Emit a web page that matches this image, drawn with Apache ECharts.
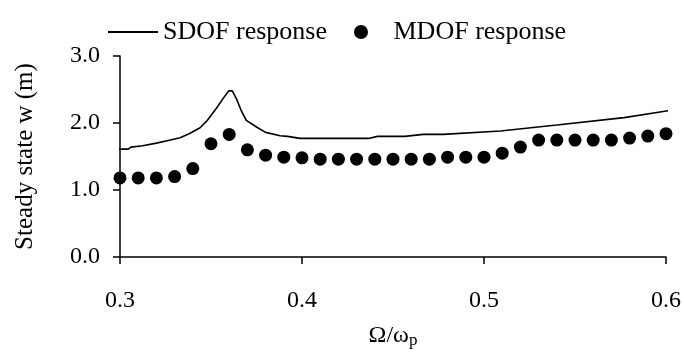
<!DOCTYPE html>
<html>
<head>
<meta charset="utf-8">
<script src="https://cdn.jsdelivr.net/npm/echarts@6/dist/echarts.min.js"></script>
<style>
  html, body { margin: 0; padding: 0; background: #fff; }
  #chart { width: 684px; height: 354px; }
</style>
</head>
<body>
<div id="chart"></div>
<script>
// Frequency ratio for the MDOF samples
const mdofX = [0.30, 0.31, 0.32, 0.33, 0.34, 0.35, 0.36, 0.37, 0.38, 0.39, 0.40,
               0.41, 0.42, 0.43, 0.44, 0.45, 0.46, 0.47, 0.48, 0.49, 0.50,
               0.51, 0.52, 0.53, 0.54, 0.55, 0.56, 0.57, 0.58, 0.59, 0.60];
// MDOF steady-state amplitude (m)
const mdofY = [1.18, 1.18, 1.18, 1.20, 1.32, 1.69, 1.83, 1.60, 1.52, 1.49, 1.48,
               1.46, 1.46, 1.46, 1.46, 1.46, 1.46, 1.46, 1.49, 1.49, 1.49,
               1.55, 1.64, 1.745, 1.745, 1.745, 1.745, 1.745, 1.775, 1.805, 1.84];
// SDOF response curve
const sdofX = [0.2965, 0.3045, 0.306, 0.3125, 0.320, 0.3265, 0.333, 0.338, 0.344, 0.348,
               0.353, 0.3565, 0.3598, 0.3617, 0.364, 0.3667, 0.3694, 0.375, 0.380, 0.388,
               0.392, 0.399, 0.4365, 0.4415, 0.4565, 0.4665, 0.4775, 0.509, 0.540, 0.577, 0.605];
const sdofY = [1.61, 1.61, 1.64, 1.66, 1.70, 1.74, 1.78, 1.84, 1.93, 2.04,
               2.22, 2.36, 2.48, 2.48, 2.36, 2.18, 2.04, 1.94, 1.86, 1.81,
               1.80, 1.77, 1.77, 1.80, 1.80, 1.83, 1.83, 1.88, 1.97, 2.08, 2.20];
// Axis ticks
const xTicks = { min: 0.3, max: 0.6, step: 0.1 };
const yTicks = { min: 0, max: 3, step: 1 };

const FONT = "'Liberation Serif', 'Times New Roman', serif";
const FS = 24;

const chart = echarts.init(document.getElementById('chart'), null, { renderer: 'canvas' });

const axisCommon = {
  axisLine: { show: true, onZero: false, lineStyle: { color: '#000', width: 1.5 } },
  axisTick: { show: true, inside: false, length: 7, lineStyle: { color: '#000', width: 1.5 } },
  splitLine: { show: false },
};

chart.setOption({
  animation: false,
  backgroundColor: '#fff',
  grid: { left: 120, right: 18, top: 56, bottom: 89, containLabel: false },
  legend: [
    {
      data: [{ name: 'SDOF response', icon: 'rect' }],
      left: 103, top: 14,
      itemWidth: 50, itemHeight: 2,
      textStyle: { fontFamily: FONT, fontSize: 26, color: '#000' }
    },
    {
      data: [{ name: 'MDOF response', icon: 'circle' }],
      left: 349, top: 14,
      itemWidth: 55, itemHeight: 14,
      textStyle: { fontFamily: FONT, fontSize: 26, color: '#000' }
    }
  ],
  xAxis: Object.assign({}, axisCommon, {
    type: 'value',
    min: xTicks.min, max: xTicks.max, interval: xTicks.step,
    axisLabel: {
      margin: 32, color: '#000', fontFamily: FONT, fontSize: FS,
      formatter: v => v.toFixed(1)
    },
    name: '{a|Ω/ω}{s|p}',
    nameLocation: 'middle',
    nameGap: 65,
    nameTextStyle: {
      color: '#000', fontFamily: FONT, fontSize: FS,
      rich: {
        a: { fontFamily: FONT, fontSize: FS, color: '#000' },
        s: { fontFamily: FONT, fontSize: 17, color: '#000', padding: [10, 0, 0, 0] }
      }
    }
  }),
  yAxis: Object.assign({}, axisCommon, {
    type: 'value',
    min: yTicks.min, max: yTicks.max, interval: yTicks.step,
    axisLabel: {
      margin: 20, color: '#000', fontFamily: FONT, fontSize: FS,
      formatter: v => v.toFixed(1)
    },
    name: 'Steady state w (m)',
    nameLocation: 'middle',
    nameRotate: 90,
    nameGap: 82,
    nameTextStyle: { color: '#000', fontFamily: FONT, fontSize: 25 }
  }),
  series: [
    {
      name: 'SDOF response',
      type: 'line',
      data: sdofX.map((x, i) => [x, sdofY[i]]),
      symbol: 'none',
      clip: false,
      lineStyle: { color: '#000', width: 1.6 },
      itemStyle: { color: '#000' },
      z: 2
    },
    {
      name: 'MDOF response',
      type: 'scatter',
      data: mdofX.map((x, i) => [x, mdofY[i]]),
      symbol: 'circle',
      symbolSize: 13,
      itemStyle: { color: '#000', opacity: 1 },
      z: 3
    }
  ]
});
</script>
</body>
</html>
